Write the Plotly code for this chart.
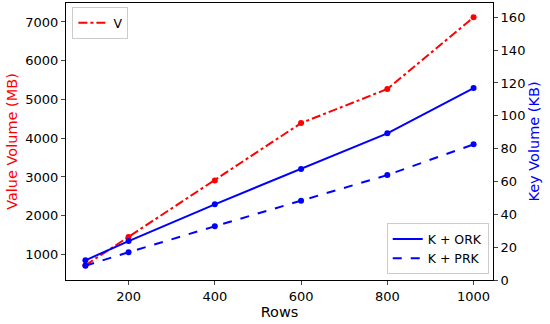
import plotly.graph_objects as go

rows = [100, 200, 400, 600, 800, 1000]
v_mb = [720, 1450, 2910, 4390, 5270, 7120]
k_ork = [12.0, 23.7, 46.1, 67.6, 89.3, 116.9]
k_prk = [8.7, 16.9, 32.7, 48.3, 63.9, 82.6]

FONT = "DejaVu Sans"

fig = go.Figure()
fig.add_trace(go.Scatter(x=rows, y=v_mb, name="V", mode="lines+markers",
                         line=dict(color="red", width=2, dash="dashdot"),
                         marker=dict(size=6, color="red"), showlegend=False))
fig.add_trace(go.Scatter(x=rows, y=k_ork, name="K + ORK", mode="lines+markers",
                         line=dict(color="blue", width=2),
                         marker=dict(size=6, color="blue"), yaxis="y2", showlegend=False))
fig.add_trace(go.Scatter(x=rows, y=k_prk, name="K + PRK", mode="lines+markers",
                         line=dict(color="blue", width=2, dash="dash"),
                         marker=dict(size=6, color="blue"), yaxis="y2", showlegend=False))
# legend entries (lines only, as in the reference)
fig.add_trace(go.Scatter(x=[None], y=[None], name="V", mode="lines",
                         line=dict(color="red", width=2, dash="dashdot"),
                         legend="legend", showlegend=True))
fig.add_trace(go.Scatter(x=[None], y=[None], name="K + ORK", mode="lines",
                         line=dict(color="blue", width=2), yaxis="y2",
                         legend="legend2", showlegend=True))
fig.add_trace(go.Scatter(x=[None], y=[None], name="K + PRK", mode="lines",
                         line=dict(color="blue", width=2, dash="dash"), yaxis="y2",
                         legend="legend2", showlegend=True))

fig.update_layout(
    width=550, height=324,
    margin=dict(l=66, r=57, t=3, b=44),
    showlegend=True,
    paper_bgcolor="white", plot_bgcolor="white",
    font=dict(family=FONT, size=13, color="black"),
    xaxis=dict(range=[55, 1045], tickvals=[200, 400, 600, 800, 1000],
               showline=True, linecolor="black", linewidth=1, mirror=True,
               ticks="outside", ticklen=4, showgrid=False, zeroline=False,
               automargin=False,
               title=dict(text="Rows", font=dict(size=14.5), standoff=2)),
    yaxis=dict(range=[340, 7490], tickvals=[1000, 2000, 3000, 4000, 5000, 6000, 7000],
               showline=True, linecolor="black", linewidth=1,
               ticks="outside", ticklen=4, showgrid=False, zeroline=False,
               automargin=False,
               title=dict(text="Value Volume (MB)", font=dict(size=14.5, color="red"), standoff=4)),
    yaxis2=dict(range=[0, 168.7], tickvals=[0, 20, 40, 60, 80, 100, 120, 140, 160],
                overlaying="y", side="right",
                showline=True, linecolor="black", linewidth=1,
                ticks="outside", ticklen=4, showgrid=False, zeroline=False,
                automargin=False,
                title=dict(text="Key Volume (KB)", font=dict(size=14.5, color="blue"), standoff=4)),
    legend=dict(x=0.015, y=0.985, xanchor="left", yanchor="top",
                bgcolor="white", bordercolor="#cccccc", borderwidth=1,
                font=dict(size=12.5), itemwidth=30, tracegroupgap=0),
    legend2=dict(x=0.99, y=0.02, xanchor="right", yanchor="bottom",
                 bgcolor="white", bordercolor="#cccccc", borderwidth=1,
                 font=dict(size=12.5), itemwidth=30, tracegroupgap=0),
)

fig.write_html("out.html", config={"displayModeBar": False},
               post_script="document.body.style.margin='0';")
